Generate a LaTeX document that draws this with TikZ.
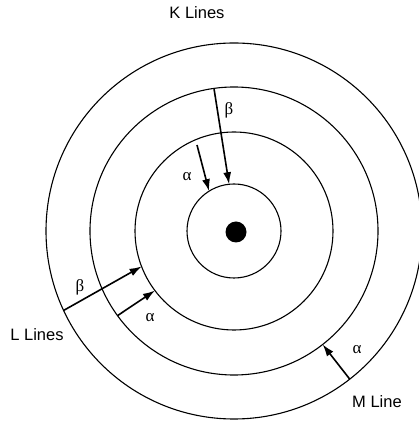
\documentclass[tikz,border=0pt]{standalone}
\usepackage{fontspec}
\setsansfont{Liberation Sans}
\newfontfamily\greekfont{Liberation Serif}
\usetikzlibrary{arrows.meta}

\tikzset{
  shell/.style={draw,circle,line width=1.1pt,inner sep=0pt,outer sep=0pt},
  trans/.style={-{Latex[length=12pt,width=8pt]},line width=1.6pt},
  tag/.style={font=\sffamily\fontsize{16.5}{19}\selectfont},
  greek/.style={font=\greekfont\fontsize{17}{19}\selectfont}
}

\begin{document}
\begin{tikzpicture}[x=1pt,y=1pt]
  \useasboundingbox (0,0) rectangle (419,428);
  \coordinate (nuc) at (234,197);
  % shells
  \node[shell,minimum size=94pt]  (k) at (nuc) {};
  \node[shell,minimum size=198pt] (l) at (nuc) {};
  \node[shell,minimum size=288pt] (m) at (nuc) {};
  \node[shell,minimum size=376pt] (n) at (nuc) {};
  \node[circle,fill,inner sep=0pt,minimum size=21pt] (core) at (236,196) {};

  % K lines
  \coordinate (ka) at (197,283);
  \draw[trans] (m.98) -- (k.96);
  \draw[trans] (ka) -- (k.122);
  \node[greek] (kb) at (229,318) {β};
  \node[greek] (kal) at (187,251) {α};
  \node[tag] (klab) at (197,415) {K Lines};

  % L lines
  \draw[trans] (n.205.6) -- (l.201.4);
  \draw[trans] (m.216.8) -- (l.217.1);
  \node[greek] (lb) at (80,141) {β};
  \node[greek] (lal) at (150,110) {α};
  \node[tag] (llab) at (37,93) {L Lines};

  % M line
  \draw[trans] (n.308) -- (m.308);
  \node[greek] (mal) at (357,78) {α};
  \node[tag] (mlab) at (377,26) {M Line};
\end{tikzpicture}
\end{document}
